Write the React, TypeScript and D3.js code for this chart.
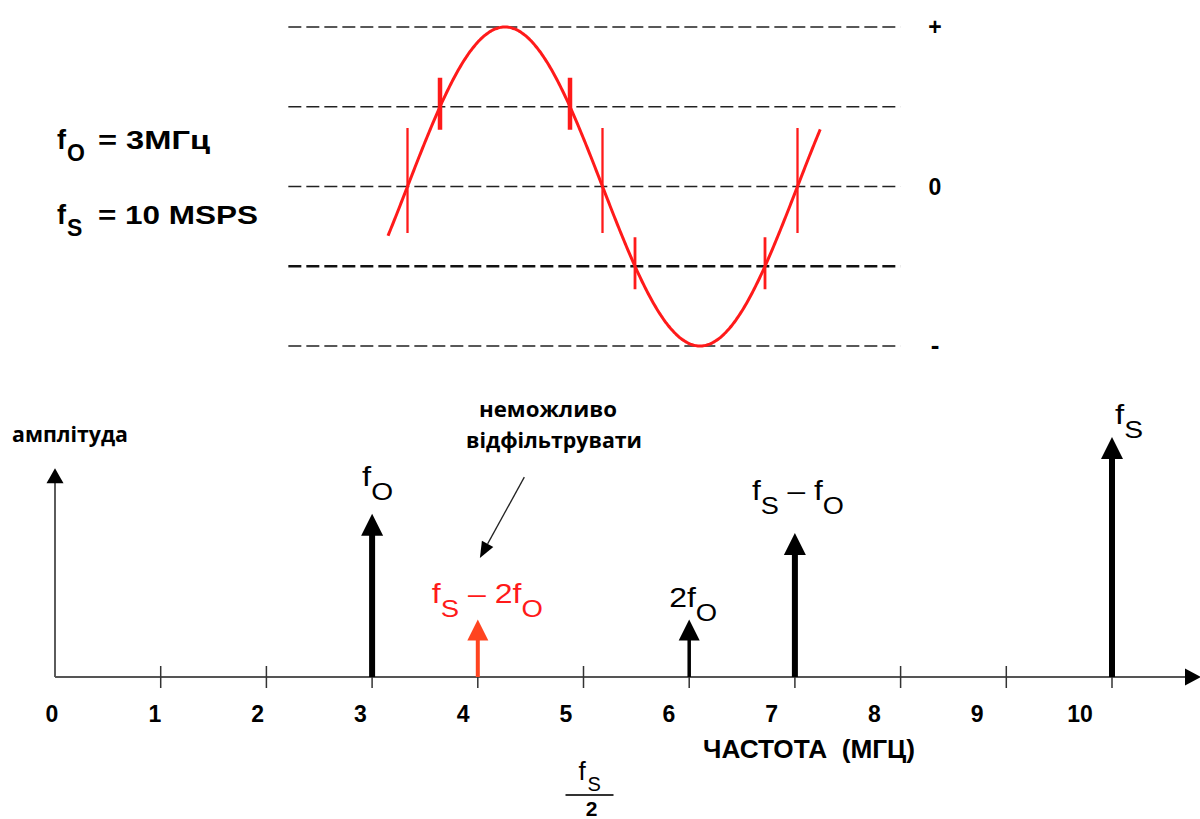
import React from "react";
import * as d3 from "d3";

const W = 1200;
const H = 819;

// ---------- top panel: sampled sine ----------
const levels = [1, 0.5, 0, -0.5, -1];
const levelLabels = ["+", "", "0", "", "-"];
const samplePhases = [0, 30, 150, 180, 210, 330, 360]; // degrees
const sineRange = [-18, 381];
const gridRange = [-110, 455];

// ---------- bottom panel: spectrum ----------
const freqTicks = [0, 1, 2, 3, 4, 5, 6, 7, 8, 9, 10];
const toneFreqs = [3, 4, 6, 7, 10];
const toneAmps = [0.68, 0.24, 0.24, 0.6, 1.0];
const toneLabels: { t: string; sub?: boolean }[][] = [
  [{ t: "f" }, { t: "O", sub: true }],
  [{ t: "f" }, { t: "S", sub: true }, { t: " – 2f" }, { t: "O", sub: true }],
  [{ t: "2f" }, { t: "O", sub: true }],
  [{ t: "f" }, { t: "S", sub: true }, { t: " – f" }, { t: "O", sub: true }],
  [{ t: "f" }, { t: "S", sub: true }],
];
const toneHeavy = [true, false, false, true, true];
const toneRed = [false, true, false, false, false];
// layout: [dx from arrow, dy from tip, label width]
const labelLayout = [
  [-10, -28, 31],
  [-46, -16, 111],
  [-20, -12, 48],
  [-43, -33, 92],
  [3, -13, 28],
];
const yAxisTop = 0.87;

const SANS = "'Liberation Sans', Arial, sans-serif";
const CYR = "'Open Sans', 'Noto Sans', sans-serif";

function SubText({ x, y, parts, size, subSize, fill, weight, width }: any) {
  let prevSub = false;
  return (
    <text
      x={x}
      y={y}
      fontFamily={SANS}
      fontSize={size}
      fill={fill}
      fontWeight={weight || 400}
      style={{ whiteSpace: "pre" }}
      textLength={width}
      lengthAdjust="spacingAndGlyphs"
    >
      {parts.map((p: any, i: number) => {
        let dy = 0;
        if (p.sub && !prevSub) dy = 14;
        if (!p.sub && prevSub) dy = -14;
        prevSub = !!p.sub;
        return (
          <tspan key={i} dy={dy} fontSize={p.sub ? subSize : size}>
            {p.t}
          </tspan>
        );
      })}
    </text>
  );
}

export default function App() {
  const xTop = d3.scaleLinear().domain([0, 360]).range([407.5, 797.5]);
  const yTop = d3.scaleLinear().domain([-1, 1]).range([346, 27]);
  const xF = d3.scaleLinear().domain([0, 10]).range([55, 1112]);
  const yA = d3.scaleLinear().domain([0, 1]).range([677, 437]);
  const xLab = d3.scaleLinear().domain([0, 10]).range([52, 1080]);

  const sinePts = d3.range(sineRange[0], sineRange[1] + 0.01, 1);
  const sinePath = d3
    .line<number>()
    .x((p) => xTop(p))
    .y((p) => yTop(Math.sin((p * Math.PI) / 180)))
    .curve(d3.curveBasis)(sinePts) as string;

  const y0 = yA(0);
  const axisEnd = 1201;

  return (
    <svg width={W} height={H} style={{ position: "absolute", left: 0, top: 0, background: "#fff" }}>
      <rect x={0} y={0} width={W} height={H} fill="#fff" />

      {/* top-left parameters */}
      <g fontFamily={SANS} fontWeight={700} fill="#000">
        <text x={57} y={149} fontSize={27}>f</text>
        <text x={67} y={161} fontSize={23}>O</text>
        <text x={98} y={149} fontSize={26} textLength={112} lengthAdjust="spacingAndGlyphs">= 3МГц</text>
        <text x={57} y={224} fontSize={27}>f</text>
        <text x={67} y={236} fontSize={23}>S</text>
        <text x={98} y={224} fontSize={26} textLength={160} lengthAdjust="spacingAndGlyphs">= 10 MSPS</text>
      </g>

      {/* dashed quantization levels */}
      {levels.map((v, i) => (
        <line
          key={"lv" + i}
          x1={xTop(gridRange[0])}
          x2={xTop(gridRange[1])}
          y1={yTop(v)}
          y2={yTop(v)}
          stroke={v === -0.5 ? "#111" : "#222"}
          strokeWidth={v === -0.5 ? 2.6 : 1.6}
          strokeDasharray="13,5"
        />
      ))}
      {levels.map((v, i) =>
        levelLabels[i] ? (
          <text
            key={"ll" + i}
            x={935}
            y={yTop(v) + 8}
            fontFamily={SANS}
            fontWeight={700}
            fontSize={levelLabels[i] === "-" ? 26 : 23}
            textAnchor="middle"
          >
            {levelLabels[i]}
          </text>
        ) : null
      )}

      {/* sine */}
      <path d={sinePath} fill="none" stroke="#ff1a1a" strokeWidth={3} />
      {samplePhases.map((p, i) => {
        const v = Math.sin((p * Math.PI) / 180);
        const isZero = Math.abs(v) < 0.01;
        const cy = yTop(v);
        const len = isZero ? 105 : 52;
        const off = isZero ? -6 : -3;
        const sw = isZero ? 2.3 : v > 0 ? 4.5 : 2.8;
        return (
          <line
            key={"s" + i}
            x1={xTop(p)}
            x2={xTop(p)}
            y1={cy + off - len / 2}
            y2={cy + off + len / 2}
            stroke="#ff1a1a"
            strokeWidth={sw}
          />
        );
      })}

      {/* spectrum axes */}
      <line x1={xF(0)} x2={xF(0)} y1={y0} y2={yA(yAxisTop) + 14} stroke="#333" strokeWidth={1.6} />
      <path
        d={`M${xF(0)},${yA(yAxisTop)} L${xF(0) - 8.5},${yA(yAxisTop) + 15} L${xF(0) + 8.5},${yA(yAxisTop) + 15} Z`}
        fill="#000"
      />
      <line x1={xF(0)} x2={axisEnd - 14} y1={y0} y2={y0} stroke="#555" strokeWidth={2} />
      <path d={`M${axisEnd},${y0} L${axisEnd - 16},${y0 - 8.5} L${axisEnd - 16},${y0 + 8.5} Z`} fill="#000" />
      {freqTicks
        .filter((t) => t > 0)
        .map((t) => (
          <line key={"t" + t} x1={xF(t)} x2={xF(t)} y1={y0 - 11} y2={y0 + 11} stroke="#333" strokeWidth={1.5} />
        ))}
      {freqTicks.map((t) => (
        <text
          key={"tl" + t}
          x={xLab(t)}
          y={722}
          fontFamily={SANS}
          fontWeight={700}
          fontSize={23}
          textAnchor="middle"
        >
          {t}
        </text>
      ))}
      <text x={703} y={758} fontFamily={SANS} fontWeight={700} fontSize={25} textLength={212} lengthAdjust="spacingAndGlyphs" style={{ whiteSpace: "pre" }}>
        ЧАСТОТА  (МГЦ)
      </text>

      {/* fs/2 */}
      <g fontFamily={SANS}>
        <text x={xF(5) - 5} y={780} fontSize={26}>f</text>
        <text x={xF(5) + 4} y={791} fontSize={20}>S</text>
        <line x1={xF(5) - 18} x2={xF(5) + 30} y1={795} y2={795} stroke="#333" strokeWidth={2} />
        <text x={xF(5) + 8} y={816} fontSize={21} fontWeight={700} textAnchor="middle">2</text>
      </g>

      <text x={12} y={442} fontFamily={CYR} fontWeight={700} fontSize={21} textLength={116} lengthAdjust="spacingAndGlyphs">
        амплітуда
      </text>

      {/* tones */}
      {toneFreqs.map((f, i) => {
        const x = xF(f);
        const tip = yA(toneAmps[i]);
        const heavy = toneHeavy[i];
        const color = toneRed[i] ? "#ff4420" : "#000";
        const hw = heavy ? 11 : 10.5;
        const hl = heavy ? 22 : 21;
        const sw = heavy ? 6 : toneRed[i] ? 4 : 3.5;
        return (
          <g key={"tone" + i}>
            <line x1={x} x2={x} y1={y0} y2={tip + hl - 1} stroke={color} strokeWidth={sw} />
            <path d={`M${x},${tip} L${x - hw},${tip + hl} L${x + hw},${tip + hl} Z`} fill={color} />
            <SubText
              x={x + labelLayout[i][0]}
              y={tip + labelLayout[i][1]}
              width={labelLayout[i][2]}
              parts={toneLabels[i]}
              size={28}
              subSize={24}
              fill={toneRed[i] ? "#ff1a1a" : "#000"}
            />
          </g>
        );
      })}

      {/* annotation */}
      <text x={479} y={417} fontFamily={CYR} fontWeight={700} fontSize={21} textLength={138} lengthAdjust="spacingAndGlyphs">
        неможливо
      </text>
      <text x={466} y={448} fontFamily={CYR} fontWeight={700} fontSize={21} textLength={176} lengthAdjust="spacingAndGlyphs">
        відфільтрувати
      </text>
      {(() => {
        const x1 = xF(4.44), y1 = yA(0.833);
        const x2 = xF(4.02), y2 = yA(0.496);
        const ang = Math.atan2(y2 - y1, x2 - x1);
        const L = 16, Wd = 6.5;
        const bx = x2 - L * Math.cos(ang), by = y2 - L * Math.sin(ang);
        const px = -Math.sin(ang) * Wd, py = Math.cos(ang) * Wd;
        return (
          <g>
            <line x1={x1} y1={y1} x2={bx} y2={by} stroke="#222" strokeWidth={1.3} />
            <path d={`M${x2},${y2} L${bx + px},${by + py} L${bx - px},${by - py} Z`} fill="#000" />
          </g>
        );
      })()}
    </svg>
  );
}
